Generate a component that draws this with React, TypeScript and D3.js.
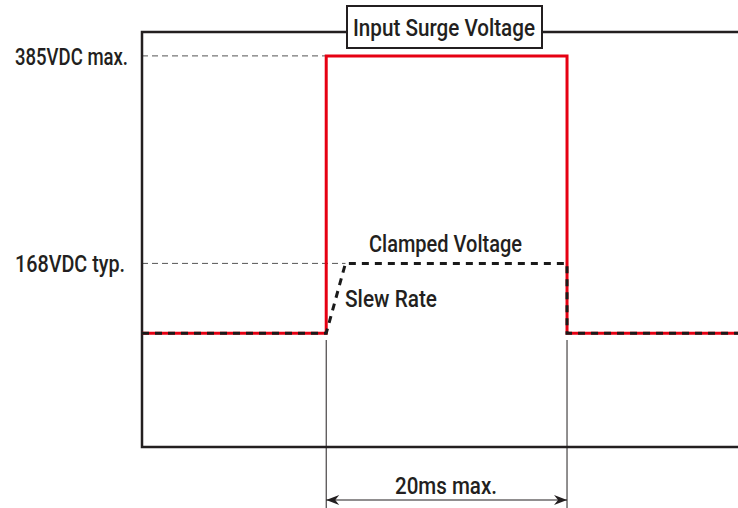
import { useEffect, useRef } from 'react';
import * as d3 from 'd3';

// time axis (ms) and voltage levels
const timeExtent = [-15.3, 34.2];
const pulseStart = 0;
const pulseEnd = 20;
const slewEnd = 1.6;
const voltExtent = [-24, 410];
const baseVolt = 95;
const surgeVolt = 385;
const clampVolt = 168;

const surgeTimes = [timeExtent[0], pulseStart, pulseStart, pulseEnd, pulseEnd, timeExtent[1]];
const surgeVolts = [baseVolt, baseVolt, surgeVolt, surgeVolt, baseVolt, baseVolt];
const clampTimes = [timeExtent[0], pulseStart, slewEnd, pulseEnd, pulseEnd, timeExtent[1]];
const clampVolts = [baseVolt, baseVolt, clampVolt, clampVolt, baseVolt, baseVolt];

const levelLabels = ['385VDC max.', '168VDC typ.'];
const levelValues = [surgeVolt, clampVolt];
const levelEnds = [pulseStart, slewEnd];

const FONT = 'Roboto, "Liberation Sans", Arial, sans-serif';
const INK = '#231f20';

type Sel = d3.Selection<SVGSVGElement, unknown, null, undefined>;

// condensed-looking label: Roboto squeezed to the width seen in the drawing
function label(svg: Sel, txt: string, x: number, y: number, width: number) {
  svg
    .append('text')
    .attr('x', x)
    .attr('y', y)
    .attr('dy', '0.36em')
    .attr('font-family', FONT)
    .attr('font-weight', 500)
    .attr('font-size', 24.5)
    .attr('fill', INK)
    .attr('textLength', width)
    .attr('lengthAdjust', 'spacingAndGlyphs')
    .text(txt);
}

export default function App() {
  const ref = useRef<SVGSVGElement | null>(null);

  useEffect(() => {
    if (!ref.current) return;
    const svg = d3.select(ref.current);
    svg.selectAll('*').remove();

    const x = d3.scaleLinear().domain(timeExtent).range([142, 738]);
    const y = d3.scaleLinear().domain(voltExtent).range([447, 32]);

    const line = d3
      .line<[number, number]>()
      .x((d) => x(d[0]))
      .y((d) => y(d[1]));

    // reference level dashes + labels
    const labelW = [113, 110];
    levelValues.forEach((v, i) => {
      svg
        .append('line')
        .attr('x1', x(timeExtent[0]))
        .attr('x2', x(levelEnds[i]))
        .attr('y1', y(v))
        .attr('y2', y(v))
        .attr('stroke', '#555')
        .attr('stroke-width', 1)
        .attr('stroke-dasharray', '6,4');
      label(svg as Sel, levelLabels[i], 15, y(v), labelW[i]);
    });

    // frame (open on the right)
    svg
      .append('path')
      .attr('d', `M${x(timeExtent[1])},${y(voltExtent[1])}H${x(timeExtent[0])}V${y(voltExtent[0])}H${x(timeExtent[1])}`)
      .attr('fill', 'none')
      .attr('stroke', INK)
      .attr('stroke-width', 2.5);

    // surge pulse
    svg
      .append('path')
      .attr('d', line(surgeTimes.map((t, i) => [t, surgeVolts[i]]))!)
      .attr('fill', 'none')
      .attr('stroke', '#e60012')
      .attr('stroke-width', 3);

    // clamped voltage
    svg
      .append('path')
      .attr('d', line(clampTimes.map((t, i) => [t, clampVolts[i]]))!)
      .attr('fill', 'none')
      .attr('stroke', '#1a1a1a')
      .attr('stroke-width', 3)
      .attr('stroke-dasharray', '7,6');

    // title box
    svg
      .append('rect')
      .attr('x', 347)
      .attr('y', 6)
      .attr('width', 195)
      .attr('height', 42)
      .attr('fill', '#fff')
      .attr('stroke', INK)
      .attr('stroke-width', 2);
    label(svg as Sel, 'Input Surge Voltage', 353, 27, 182);

    label(svg as Sel, 'Clamped Voltage', 369, 243, 153);
    label(svg as Sel, 'Slew Rate', 345, 298, 92);

    // dimension lines
    [pulseStart, pulseEnd].forEach((t) => {
      svg
        .append('line')
        .attr('x1', x(t))
        .attr('x2', x(t))
        .attr('y1', 340)
        .attr('y2', 508)
        .attr('stroke', INK)
        .attr('stroke-width', 1);
    });

    const ay = 500;
    const x0 = x(pulseStart);
    const x1 = x(pulseEnd);
    svg
      .append('line')
      .attr('x1', x0)
      .attr('x2', x1)
      .attr('y1', ay)
      .attr('y2', ay)
      .attr('stroke', INK)
      .attr('stroke-width', 1.2);
    svg
      .append('path')
      .attr('d', `M${x0},${ay}l13,-5l-4,5l4,5Z M${x1},${ay}l-13,-5l4,5l-4,5Z`)
      .attr('fill', INK);

    label(svg as Sel, '20ms max.', 395, 485, 102);
  }, []);

  return (
    <svg
      ref={ref}
      width={738}
      height={508}
      viewBox="0 0 738 508"
      style={{ position: 'absolute', left: 0, top: 0, background: '#fff' }}
    />
  );
}
